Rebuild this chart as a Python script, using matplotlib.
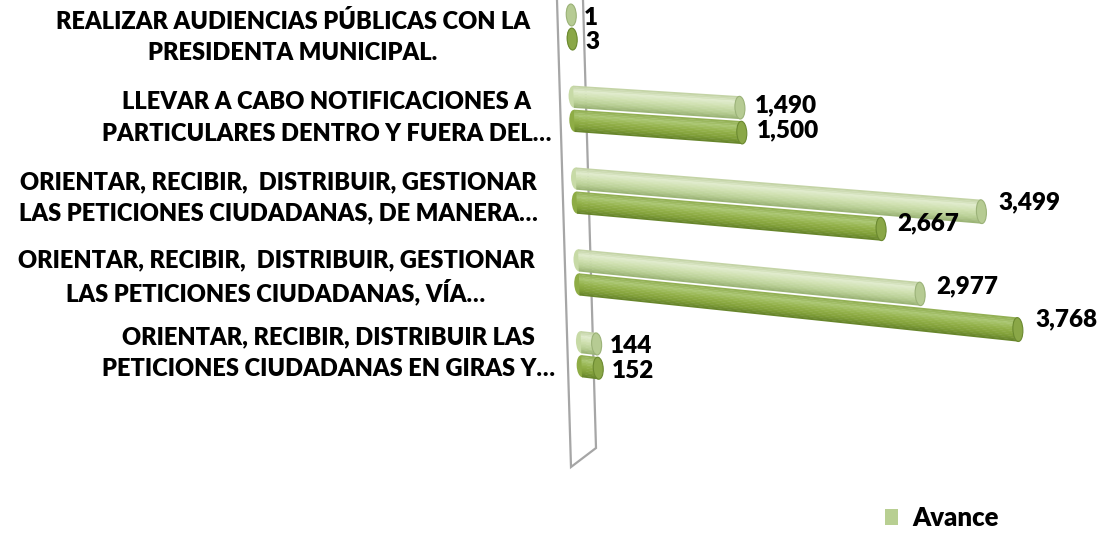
import numpy as np
import matplotlib
matplotlib.use("Agg")
import matplotlib.pyplot as plt
import matplotlib.transforms as mtransforms
from matplotlib.patches import Ellipse, Patch
from matplotlib.colors import LinearSegmentedColormap

plt.rcParams['font.family'] = ['Lato', 'DejaVu Sans']

# ---------------- data ----------------
categories = [
    "REALIZAR AUDIENCIAS PÚBLICAS CON LA\nPRESIDENTA MUNICIPAL.",
    "LLEVAR A CABO NOTIFICACIONES A\nPARTICULARES DENTRO Y FUERA DEL…",
    "ORIENTAR, RECIBIR,  DISTRIBUIR, GESTIONAR\nLAS PETICIONES CIUDADANAS, DE MANERA…",
    "ORIENTAR, RECIBIR,  DISTRIBUIR, GESTIONAR\nLAS PETICIONES CIUDADANAS, VÍA…",
    "ORIENTAR, RECIBIR, DISTRIBUIR LAS\nPETICIONES CIUDADANAS EN GIRAS Y…",
]
avance = [1, 1490, 3499, 2977, 144]
meta = [3, 1500, 2667, 3768, 152]
legend_label = "Avance"

# ---------------- layout ----------------
W, H = 1109, 535
Y0, DY = 27.0, 81.8          # pixel y of first group centre, group pitch
X0, WALL = 571.5, 0.03       # bar start x, slant of the wall
KA, KB = 0.1085, 2.1e-6      # perspective value scale (px = KA*v + KB*v^2)
S0, S1 = 0.046, 0.0002       # perspective slope of bars
OFF = 0.147                  # series offset (category units)
HH = 0.134                   # half bar thickness (category units)
CAPPX = 10.0                 # cap width in pixels
NB = 14                      # shading bands per cylinder

label_cx = [293, 327, 278, 276, 328]
label_cy = [35, 116, 196, 274, 351]
LINE_GAP = 15.8
FW = 'heavy'


class Perspective(mtransforms.Transform):
    input_dims = 2
    output_dims = 2
    is_separable = False
    has_inverse = False

    def transform_non_affine(self, values):
        values = np.asarray(values, dtype=float).reshape(-1, 2)
        v = values[:, 0]
        r = values[:, 1]
        yl = Y0 + r * DY
        xl = X0 + WALL * (yl - Y0)
        dx = KA * v + KB * v * np.abs(v)
        x = xl + dx
        y = yl + (S0 + S1 * yl) * dx
        return np.column_stack([x, y])


def cap_width(v):
    # value-unit width that corresponds to CAPPX pixels at value v
    return CAPPX / (KA + 2 * KB * abs(v))


fig = plt.figure(figsize=(W / 100, H / 100), dpi=100)
ax = fig.add_axes([0, 0, 1, 1])
ax.set_xlim(0, W)
ax.set_ylim(H, 0)
ax.set_autoscale_on(False)
ax.axis('off')

persp = Perspective()
T = persp + ax.transData

# wall (back plane of the category axis)
ax.plot([557, 571, 596, 583], [0, 467, 448, 0], color='#a6a6a6', lw=1.6,
        solid_joinstyle='miter', zorder=1)

idx = np.arange(len(categories))

styles = {
    'avance': dict(
        cmap=LinearSegmentedColormap.from_list(
            'av', [(0, '#bfd0a0'), (0.25, '#e0ebcc'), (0.5, '#cfe0b0'),
                   (0.78, '#b8ce93'), (1, '#97b072')]),
        cap='#b6cb93', capedge='#9bb278'),
    'meta': dict(
        cmap=LinearSegmentedColormap.from_list(
            'me', [(0, '#8fac4f'), (0.25, '#aac672'), (0.5, '#95b34c'),
                   (0.78, '#809f38'), (1, '#63812a')]),
        cap='#8aa747', capedge='#6b8930'),
}


def draw_series(vals, rows, st, z):
    vals = np.asarray(vals, float)
    cm = st['cmap']
    for v, r in zip(vals, rows):
        ax.add_patch(Ellipse((0, r), cap_width(0), 2 * HH, facecolor=cm(0.6),
                             edgecolor='none', transform=T, zorder=z))
    bh = 2 * HH / NB
    for i in range(NB):
        t = (i + 0.5) / NB
        ax.barh(rows - HH + (i + 0.5) * bh, vals, height=bh * 1.25, left=0,
                color=cm(t), linewidth=0, transform=T, zorder=z)
    for v, r in zip(vals, rows):
        ax.add_patch(Ellipse((v, r), cap_width(v), 2 * HH, facecolor=st['cap'],
                             edgecolor=st['capedge'], lw=0.8, transform=T,
                             zorder=z))
    # value labels
    for v, r in zip(vals, rows):
        (xe, ye), = persp.transform_non_affine([[v, r]])
        (xs, ys), = persp.transform_non_affine([[0, r]])
        length = xe - xs
        ax.text(xe + CAPPX / 2 + 8 + 0.01 * length, ye + 3 - 0.03 * length,
                f"{int(v):,}", ha='left', va='center', fontsize=17.5,
                fontweight=FW, color='black', zorder=10)


z = 3
for g in idx:
    draw_series([avance[g]], np.array([g - OFF]), styles['avance'], z)
    draw_series([meta[g]], np.array([g + OFF]), styles['meta'], z + 1)
    z += 2

for g, lab in enumerate(categories):
    lines = lab.split('\n')
    n = len(lines)
    for j, line in enumerate(lines):
        yy = label_cy[g] + (j - (n - 1) / 2) * 2 * LINE_GAP
        ax.text(label_cx[g], yy, line, ha='center', va='center_baseline',
                fontsize=17, fontweight=FW, color='black')

leg = ax.legend(handles=[Patch(facecolor='#b8cf92', edgecolor='none',
                               label=legend_label)],
                loc='center left', bbox_to_anchor=(885 / W, 1 - 518 / H),
                bbox_transform=fig.transFigure, frameon=False,
                prop=dict(family=['Lato', 'DejaVu Sans'], weight=FW, size=18.5),
                handlelength=0.5, handleheight=0.6, handletextpad=0.55,
                borderpad=0, borderaxespad=0)

fig.savefig('out.png', dpi=100, facecolor='white')
